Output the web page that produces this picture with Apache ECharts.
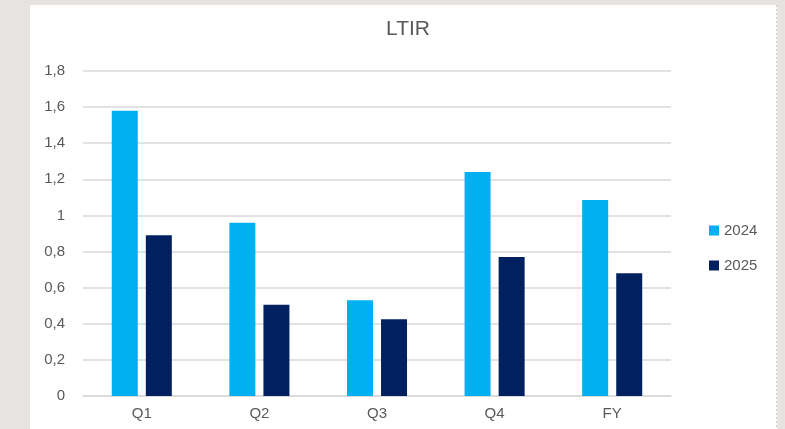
<!DOCTYPE html>
<html><head><meta charset="utf-8">
<script src="https://cdn.jsdelivr.net/npm/echarts@6/dist/echarts.min.js"></script>
<style>html,body{margin:0;padding:0;background:#e7e3e0;}#c{width:785px;height:429px;}</style>
</head><body><div id="c"></div>
<script>
const categories = ['Q1','Q2','Q3','Q4','FY'];
const series2024 = [1.58, 0.96, 0.53, 1.24, 1.085];
const series2025 = [0.89, 0.505, 0.425, 0.77, 0.68];
const seriesNames = ['2024','2025'];
const chart = echarts.init(document.getElementById('c'), null, {renderer:'canvas'});
const txt = '#595959';
chart.setOption({
  backgroundColor: '#e7e3e0',
  animation: false,
  graphic: [
    {type:'rect', shape:{x:30,y:5,width:747,height:430}, style:{fill:'#ffffff'}, z:-10},
    {type:'line', shape:{x1:776.5,y1:5,x2:776.5,y2:429}, style:{stroke:'#cfcfcf', lineWidth:1, lineDash:[2,2]}, z:-9}
  ],
  title: {text:'LTIR', left:403, top:14, textAlign:'center', textStyle:{color:txt, fontSize:21, fontWeight:'normal', fontFamily:'Liberation Sans'}},
  legend: {orient:'vertical', left:704, top:218, itemWidth:10, itemHeight:10, itemGap:20, icon:'rect',
    textStyle:{color:txt, fontSize:15, fontFamily:'Liberation Sans'}, data:seriesNames},
  grid: {left:83, right:114, top:71, bottom:33, containLabel:false},
  xAxis: {type:'category', data:categories, axisLine:{show:true, lineStyle:{color:'#d9d9d9', width:1.5}}, axisTick:{show:false},
    axisLabel:{color:txt, fontSize:15, margin:10, fontFamily:'Liberation Sans'}},
  yAxis: {type:'value', min:0, max:1.8, interval:0.2, axisLine:{show:false}, axisTick:{show:false},
    splitLine:{lineStyle:{color:'#d9d9d9', width:1.5}},
    axisLabel:{color:txt, fontSize:15, margin:18, fontFamily:'Liberation Sans', formatter:v=>{const r=Math.round(v*10)/10; return String(r).replace('.',',');}}},
  series: [
    {name:seriesNames[0], type:'bar', data:series2024, barWidth:26, barGap:'31%', itemStyle:{color:'#00b0f0'}},
    {name:seriesNames[1], type:'bar', data:series2025, barWidth:26, itemStyle:{color:'#002060'}}
  ]
});
</script></body></html>
